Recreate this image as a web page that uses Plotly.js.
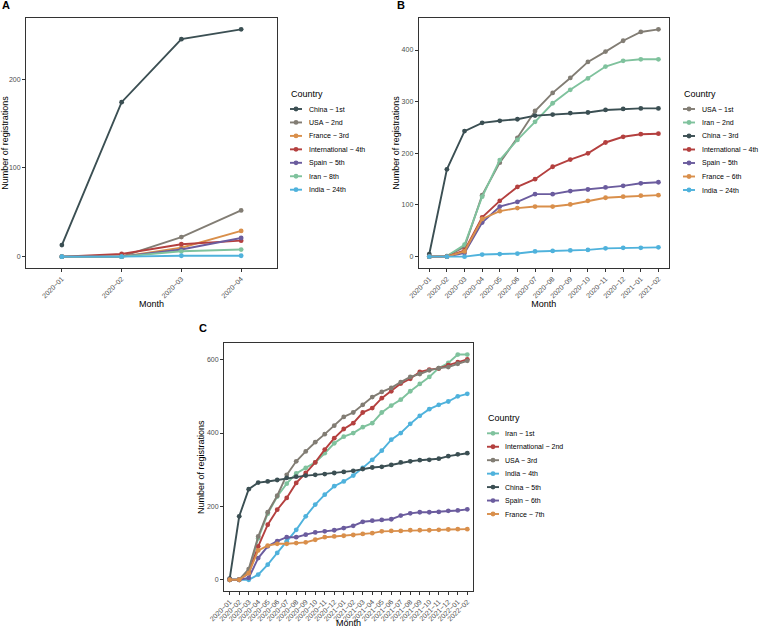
<!DOCTYPE html>
<html><head><meta charset="utf-8">
<script src="https://cdn.plot.ly/plotly-3.0.1.min.js"></script>
<style>html,body{margin:0;padding:0;background:#fff}#chart{width:761px;height:628px}</style>
</head><body><div id="chart"></div>
<script>
// ---------- DATA ----------
const monthsA = ["2020−01","2020−02","2020−03","2020−04"];
const monthsB = ["2020−01","2020−02","2020−03","2020−04","2020−05","2020−06","2020−07","2020−08","2020−09","2020−10","2020−11","2020−12","2021−01","2021−02"];
const monthsC = ["2020−01","2020−02","2020−03","2020−04","2020−05","2020−06","2020−07","2020−08","2020−09","2020−10","2020−11","2020−12","2021−01","2021−02","2021−03","2021−04","2021−05","2021−06","2021−07","2021−08","2021−09","2021−10","2021−11","2021−12","2022−01","2022−02"];

// Panel A
const countriesA = ["China","USA","France","International","Spain","Iran","India"];
const ranksA = ["1st","2nd","3rd","4th","5th","8th","24th"];
const aChina = [13, 174, 245, 256];
const aUSA = [0, 0, 22, 52];
const aFrance = [0, 0, 10, 29];
const aInternational = [0, 3, 14, 18];
const aSpain = [0, 0, 8, 21];
const aIran = [0, 0, 6, 8];
const aIndia = [0, 0, 1, 1];

// Panel B
const countriesB = ["USA","Iran","China","International","Spain","France","India"];
const ranksB = ["1st","2nd","3rd","4th","5th","6th","24th"];
const bUSA = [0, 1, 19, 119, 182, 230, 282, 317, 346, 377, 397, 418, 435, 440];
const bIran = [0, 1, 23, 116, 187, 226, 261, 297, 323, 345, 368, 379, 382, 382];
const bChina = [5, 169, 243, 259, 263, 266, 273, 275, 278, 279, 284, 286, 287, 287];
const bInternational = [0, 0, 12, 76, 108, 135, 150, 174, 188, 200, 221, 232, 237, 238];
const bSpain = [0, 0, 7, 66, 97, 106, 121, 121, 127, 130, 134, 137, 142, 144];
const bFrance = [0, 0, 10, 73, 88, 94, 97, 97, 101, 108, 114, 116, 118, 119];
const bIndia = [0, 0, 0, 4, 5, 6, 10, 11, 12, 13, 16, 17, 17, 18];

// Panel C
const countriesC = ["Iran","International","USA","India","China","Spain","France"];
const ranksC = ["1st","2nd","3rd","4th","5th","6th","7th"];
const cIran = [0, 1, 23, 113, 180, 227, 262, 290, 305, 320, 345, 372, 390, 400, 416, 427, 456, 475, 491, 514, 534, 553, 577, 591, 614, 614];
const cInternational = [0, 0, 18, 91, 150, 191, 223, 264, 291, 320, 355, 386, 411, 427, 456, 468, 495, 514, 535, 548, 567, 573, 576, 585, 593, 601];
const cUSA = [0, 0, 29, 118, 184, 229, 286, 323, 350, 375, 397, 420, 444, 456, 477, 498, 512, 523, 539, 553, 561, 571, 577, 580, 589, 597];
const cIndia = [0, 0, 0, 14, 41, 73, 105, 136, 173, 205, 232, 255, 268, 284, 305, 327, 352, 382, 400, 425, 447, 465, 477, 486, 500, 507];
const cChina = [3, 173, 247, 265, 268, 272, 278, 281, 284, 286, 288, 291, 294, 297, 302, 306, 308, 313, 320, 323, 326, 327, 330, 337, 342, 345];
const cSpain = [0, 0, 5, 59, 91, 105, 116, 116, 123, 129, 132, 135, 141, 147, 158, 161, 163, 165, 175, 181, 184, 184, 185, 188, 189, 192];
const cFrance = [0, 0, 18, 80, 93, 98, 98, 100, 102, 109, 116, 118, 120, 122, 125, 127, 132, 133, 133, 135, 135, 135, 136, 137, 138, 138];

// ---------- STYLE ----------
const colors = {
  China: "#3b4f53", USA: "#827d74", France: "#d98f4b", International: "#b4403f",
  Spain: "#6b5c9e", Iran: "#7fc29d", India: "#4fb2dc"
};
const W = 761, H = 628;
const px = v => v / W;
const py = v => 1 - v / H;
const FONT = "Liberation Sans, Arial, Helvetica, sans-serif";

const panels = [
  { months: monthsA, countries: countriesA, ranks: ranksA,
    series: [aChina, aUSA, aFrance, aInternational, aSpain, aIran, aIndia],
    dom: { l: 26, r: 277, t: 18, b: 268 }, dtick: 100, tag: "A", tagX: 0, tagY: 5,
    leg: { titleX: 289, titleY: 94, g0: 290, g1: 302, tx: 307, y0: 109, step: 13.45 } },
  { months: monthsB, countries: countriesB, ranks: ranksB,
    series: [bUSA, bIran, bChina, bInternational, bSpain, bFrance, bIndia],
    dom: { l: 418.7, r: 669, t: 18, b: 268 }, dtick: 100, tag: "B", tagX: 395, tagY: 5,
    leg: { titleX: 682, titleY: 94, g0: 683, g1: 695, tx: 700, y0: 109, step: 13.5 } },
  { months: monthsC, countries: countriesC, ranks: ranksC,
    series: [cIran, cInternational, cUSA, cIndia, cChina, cSpain, cFrance],
    dom: { l: 224, r: 473, t: 343.3, b: 591 }, dtick: 200, tag: "C", tagX: 197, tagY: 328,
    leg: { titleX: 486, titleY: 418, g0: 487, g1: 499, tx: 503, y0: 433.3, step: 13.45 } }
];

const traces = [];
const layout = {
  width: W, height: H,
  margin: { l: 0, r: 0, t: 0, b: 0 },
  paper_bgcolor: "#ffffff", plot_bgcolor: "#ffffff",
  showlegend: false,
  font: { family: FONT, color: "#000000" },
  annotations: [], shapes: []
};

panels.forEach((p, k) => {
  const sfx = k === 0 ? "" : String(k + 1);
  const xaKey = "xaxis" + sfx, yaKey = "yaxis" + sfx;
  const xref = "x" + sfx, yref = "y" + sfx;
  let maxV = 0, minV = Infinity;
  p.series.forEach(s => { maxV = Math.max(maxV, ...s); minV = Math.min(minV, ...s); });
  const pad = (maxV - minV) * 0.05;

  p.countries.forEach((c, i) => {
    traces.push({
      type: "scatter", mode: "lines+markers",
      x: p.months, y: p.series[i],
      name: c + " − " + p.ranks[i],
      xaxis: xref, yaxis: yref,
      line: { color: colors[c], width: 1.9 },
      marker: { color: colors[c], size: 4.8 },
      hoverinfo: "x+y+name"
    });
  });

  layout[xaKey] = {
    type: "category", anchor: yref,
    domain: [px(p.dom.l), px(p.dom.r)],
    range: [-0.6, p.months.length - 1 + 0.6],
    showline: true, mirror: true, linecolor: "#333333", linewidth: 1,
    ticks: "outside", ticklen: 3, tickwidth: 1, tickcolor: "#333333",
    showgrid: false, zeroline: false, tickangle: -45,
    tickfont: { family: FONT, size: 7, color: "#4d4d4d" },
    title: { text: "Month", font: { family: FONT, size: 9, color: "#000" }, standoff: 2 },
    automargin: false
  };
  layout[yaKey] = {
    anchor: xref,
    domain: [py(p.dom.b), py(p.dom.t)],
    range: [minV - pad, maxV + pad],
    dtick: p.dtick, tick0: 0,
    showline: true, mirror: true, linecolor: "#333333", linewidth: 1,
    ticks: "outside", ticklen: 3, tickwidth: 1, tickcolor: "#333333",
    showgrid: false, zeroline: false,
    tickfont: { family: FONT, size: 7, color: "#4d4d4d" },
    title: { text: "Number of registrations", font: { family: FONT, size: 9, color: "#000" }, standoff: 0 },
    automargin: false
  };

  // panel tag
  layout.annotations.push({
    xref: "paper", yref: "paper", x: px(p.tagX), y: py(p.tagY),
    xanchor: "left", yanchor: "middle", showarrow: false,
    text: "<b>" + p.tag + "</b>", font: { family: FONT, size: 11, color: "#000" }
  });

  // legend (drawn from the same arrays)
  const L = p.leg;
  layout.annotations.push({
    xref: "paper", yref: "paper", x: px(L.titleX), y: py(L.titleY),
    xanchor: "left", yanchor: "middle", showarrow: false,
    text: "Country", font: { family: FONT, size: 9, color: "#000" }
  });
  p.countries.forEach((c, i) => {
    const yy = py(L.y0 + i * L.step);
    layout.shapes.push({
      type: "line", xref: "paper", yref: "paper",
      x0: px(L.g0), x1: px(L.g1), y0: yy, y1: yy,
      line: { color: colors[c], width: 1.9 }
    });
    layout.shapes.push({
      type: "circle", xref: "paper", yref: "paper",
      xsizemode: "pixel", ysizemode: "pixel",
      xanchor: px((L.g0 + L.g1) / 2), yanchor: yy,
      x0: -2.4, x1: 2.4, y0: -2.4, y1: 2.4,
      fillcolor: colors[c], line: { width: 0 }
    });
    layout.annotations.push({
      xref: "paper", yref: "paper", x: px(L.tx), y: yy,
      xanchor: "left", yanchor: "middle", showarrow: false,
      text: c + " − " + p.ranks[i], font: { family: FONT, size: 7, color: "#000" }
    });
  });
});

Plotly.newPlot("chart", traces, layout, { displayModeBar: false, staticPlot: true });
</script>
</body></html>
